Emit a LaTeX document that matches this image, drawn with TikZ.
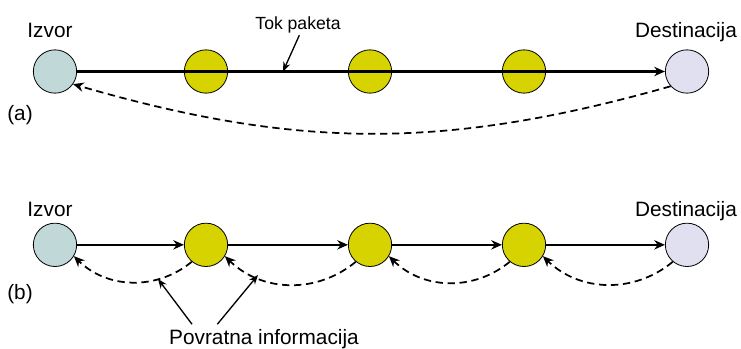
\documentclass[tikz,border=0pt]{standalone}
\usepackage{fontspec}
\setmainfont{Liberation Sans}
\usetikzlibrary{arrows.meta,positioning}

\definecolor{srccol}{HTML}{C0D8D8}
\definecolor{rtrcol}{HTML}{D6D300}
\definecolor{dstcol}{HTML}{E0E0F0}

\begin{document}
\begin{tikzpicture}[x=0.75pt,y=-0.75pt,>={Stealth[length=8pt,width=7pt]},
  on grid,
  every node/.style={font=\fontsize{15.6}{18}\selectfont},
  hop/.style={circle,draw,line width=0.6pt,minimum size=32.5pt,inner sep=0pt},
  src/.style={hop,fill=srccol},
  rtr/.style={hop,fill=rtrcol},
  dst/.style={hop,fill=dstcol},
  flow/.style={->,line width=1.8pt},
  fb/.style={->,dash pattern=on 5.5pt off 3.5pt,line width=1.3pt},
  ptr/.style={-{Stealth[length=7pt,width=5.5pt]},line width=1pt}]
\useasboundingbox (0,0) rectangle (741,349);

  % (a) one end-to-end loop
  \node[src]          (S1) at (55,71.5)            {};
  \node[rtr]          (R1) [right=113.25pt of S1]  {};
  \node[rtr]          (R2) [right=123pt of R1]     {};
  \node[rtr]          (R3) [right=115.5pt of R2]   {};
  \node[dst]          (D1) [right=122.25pt of R3]  {};
  % (b) hop-by-hop
  \node[src]          (S2) [below=130pt of S1]     {};
  \node[rtr]          (R4) [below=130pt of R1]     {};
  \node[rtr]          (R5) [below=130pt of R2]     {};
  \node[rtr]          (R6) [below=130pt of R3]     {};
  \node[dst]          (D2) [below=130pt of D1]     {};

  \node[anchor=base]  (izA) at (50,38)   {Izvor};
  \node[anchor=base]  (deA) at (686,38)  {Destinacija};
  \node[anchor=base,font=\fontsize{13.2}{15}\selectfont,inner sep=1pt]
                      (tok) at (298,30)  {Tok paketa};
  \node               (la)  at (20,115)  {(a)};
  \node[anchor=base]  (izB) at (50,216)  {Izvor};
  \node[anchor=base]  (deB) at (686,216) {Destinacija};
  \node               (lb)  at (20,294)  {(b)};
  \node[anchor=base]  (pov) at (264,344) {Povratna informacija};

\path (S1)    edge [flow]                (D1)
      (D1.222) edge [fb,bend left=16]    (S1.-35);
\path (S2)    edge [flow]   (R4)
      (R4)    edge [flow]   (R5)
      (R5)    edge [flow]   (R6)
      (R6)    edge [flow]   (D2);
\path (R4.230) edge [fb,bend left=42] (S2.-31)
      (R5.230) edge [fb,bend left=42] (R4.-31)
      (R6.230) edge [fb,bend left=42] (R5.-31)
      (D2.230) edge [fb,bend left=42] (R6.-31);

  \coordinate (tokhit) at (283,71.5);
  \coordinate (fb1)    at (158,279);
  \coordinate (fb2)    at (258,275);
\draw[ptr] ([xshift=1pt]tok.south)    -- (tokhit);
\draw[ptr] ([xshift=-54pt]pov.north)  -- (fb1);
\draw[ptr] ([xshift=-35pt]pov.north)  -- (fb2);
\end{tikzpicture}
\end{document}
